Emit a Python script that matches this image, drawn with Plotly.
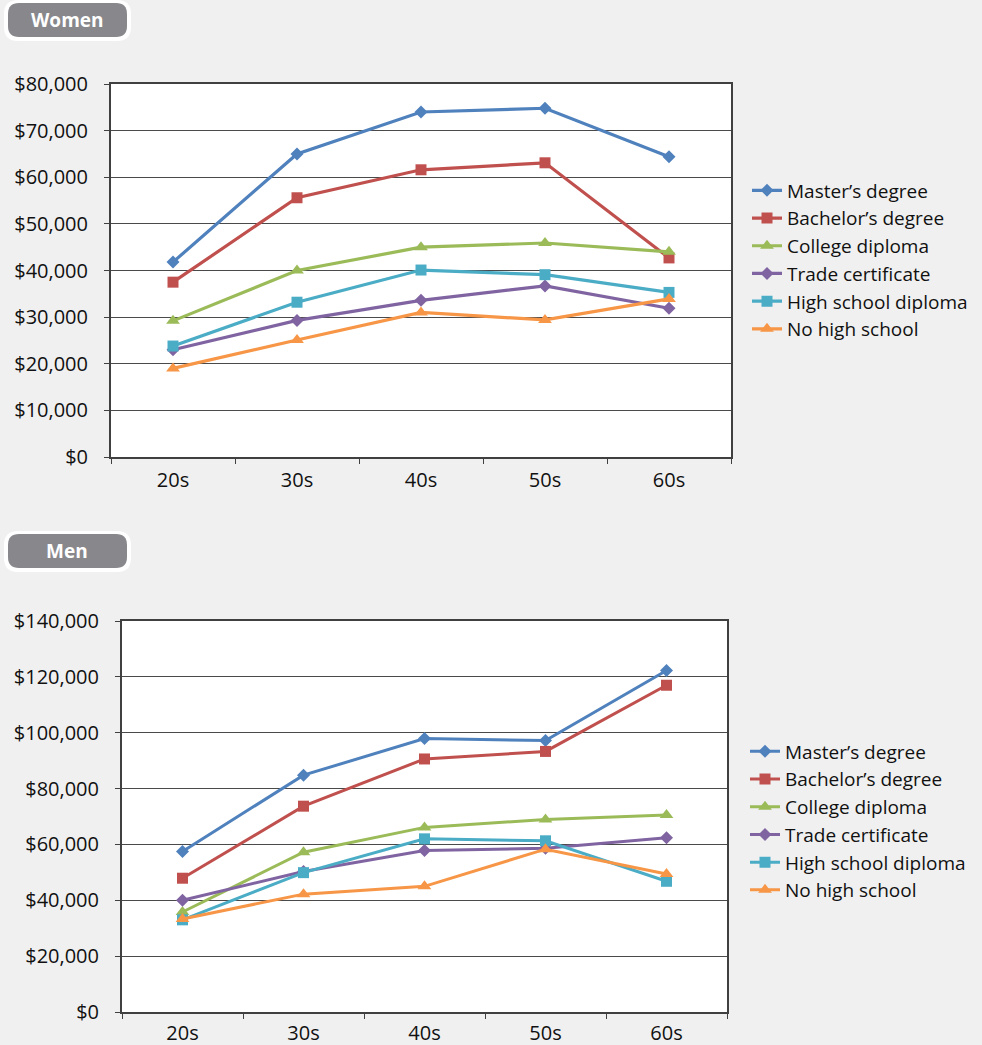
import plotly.graph_objects as go

ages = ["20s", "30s", "40s", "50s", "60s"]
series_names = ["Master’s degree", "Bachelor’s degree", "College diploma",
                "Trade certificate", "High school diploma", "No high school"]

women_masters = [41800, 65000, 74000, 74800, 64400]
women_bachelors = [37500, 55600, 61600, 63100, 42700]
women_college = [29200, 40000, 45000, 45900, 44000]
women_trade = [23000, 29300, 33600, 36700, 31900]
women_highschool = [23800, 33200, 40100, 39100, 35300]
women_nohigh = [19000, 25100, 31000, 29400, 33900]

men_masters = [57500, 84800, 97900, 97200, 122300]
men_bachelors = [47900, 73700, 90600, 93300, 117000]
men_college = [35800, 57200, 66100, 68900, 70500]
men_trade = [40000, 50300, 57800, 58600, 62400]
men_highschool = [33000, 49900, 62000, 61300, 46800]
men_nohigh = [33300, 42200, 45000, 58300, 49400]

women_data = [women_masters, women_bachelors, women_college, women_trade, women_highschool, women_nohigh]
men_data = [men_masters, men_bachelors, men_college, men_trade, men_highschool, men_nohigh]

colors = ["#4F81BD", "#C0504D", "#9BBB59", "#8064A2", "#4BACC6", "#F79646"]
symbols = ["diamond", "square", "triangle-up", "diamond", "square", "triangle-up"]
sizes = [10, 11, 12, 10, 11, 12]

W, H = 982, 1045
FONT = "Open Sans"
TICK_SIZE = 20
LEG_SIZE = 19

def px(x):
    return x / W

def py(y):
    return 1 - y / H

fig = go.Figure()

for i, name in enumerate(series_names):
    fig.add_trace(go.Scatter(
        x=ages, y=women_data[i], name=name, mode="lines+markers",
        line=dict(color=colors[i], width=3.2),
        marker=dict(symbol=symbols[i], size=sizes[i], color=colors[i]),
        xaxis="x", yaxis="y", legend="legend"))
for i, name in enumerate(series_names):
    fig.add_trace(go.Scatter(
        x=ages, y=men_data[i], name=name, mode="lines+markers",
        line=dict(color=colors[i], width=3),
        marker=dict(symbol=symbols[i], size=sizes[i], color=colors[i]),
        xaxis="x2", yaxis="y2", legend="legend2"))

axis_common = dict(showline=True, linecolor="#404040", linewidth=2, mirror=True,
                   tickfont=dict(family=FONT, size=TICK_SIZE, color="#111111"),
                   ticks="outside", ticklen=5, tickcolor="#404040", automargin=False)

def rounded_rect(x0, y0, x1, y1, r):
    pts = [
        f"M {px(x0 + r)} {py(y0)}",
        f"L {px(x1 - r)} {py(y0)}",
        f"Q {px(x1)} {py(y0)} {px(x1)} {py(y0 + r)}",
        f"L {px(x1)} {py(y1 - r)}",
        f"Q {px(x1)} {py(y1)} {px(x1 - r)} {py(y1)}",
        f"L {px(x0 + r)} {py(y1)}",
        f"Q {px(x0)} {py(y1)} {px(x0)} {py(y1 - r)}",
        f"L {px(x0)} {py(y0 + r)}",
        f"Q {px(x0)} {py(y0)} {px(x0 + r)} {py(y0)}",
        "Z",
    ]
    return " ".join(pts)

shapes = []
annotations = []
for (label, top) in [("Women", 0), ("Men", 531)]:
    shapes.append(dict(type="path", xref="paper", yref="paper",
                       path=rounded_rect(4, top, 131, top + 41, 14),
                       fillcolor="white", line=dict(width=0), layer="above"))
    shapes.append(dict(type="path", xref="paper", yref="paper",
                       path=rounded_rect(8, top + 3, 127, top + 37, 11),
                       fillcolor="#88888c", line=dict(width=0), layer="above"))
    annotations.append(dict(text=f"<b>{label}</b>", xref="paper", yref="paper",
                            x=px(67), y=py(top + 20), showarrow=False,
                            xanchor="center", yanchor="middle",
                            font=dict(family=FONT, size=19, color="white")))

fig.update_layout(
    width=W, height=H,
    margin=dict(l=0, r=0, t=0, b=0, autoexpand=False),
    paper_bgcolor="#f0f0f0",
    plot_bgcolor="white",
    showlegend=True,
    xaxis=dict(domain=[px(111), px(731)], anchor="y", tickson="boundaries",
               range=[-0.5, 4.5], showgrid=False, ticklabelstandoff=4, **axis_common),
    yaxis=dict(domain=[py(457), py(84)], anchor="x", range=[0, 80000], dtick=10000,
               tickprefix="$", tickformat=",", showgrid=True, gridcolor="#4a4a4a",
               gridwidth=1, zeroline=False, ticklabelstandoff=12, **axis_common),
    xaxis2=dict(domain=[px(122), px(727)], anchor="y2", tickson="boundaries",
                range=[-0.5, 4.5], showgrid=False, ticklabelstandoff=2, **axis_common),
    yaxis2=dict(domain=[py(1012), py(621)], anchor="x2", range=[0, 140000], dtick=20000,
                tickprefix="$", tickformat=",", showgrid=True, gridcolor="#4a4a4a",
                gridwidth=1, zeroline=False, ticklabelstandoff=12, **axis_common),
    legend=dict(x=px(747), y=py(260), xanchor="left", yanchor="middle",
                bgcolor="rgba(0,0,0,0)", font=dict(family=FONT, size=LEG_SIZE, color="#111111"),
                tracegroupgap=0, itemwidth=30),
    legend2=dict(x=px(745), y=py(821), xanchor="left", yanchor="middle",
                 bgcolor="rgba(0,0,0,0)", font=dict(family=FONT, size=LEG_SIZE, color="#111111"),
                 tracegroupgap=0, itemwidth=30),
    shapes=shapes,
    annotations=annotations,
)

fig.write_html("out.html", config={"displayModeBar": False},
               post_script="document.body.style.margin='0';document.body.style.overflow='hidden';")
